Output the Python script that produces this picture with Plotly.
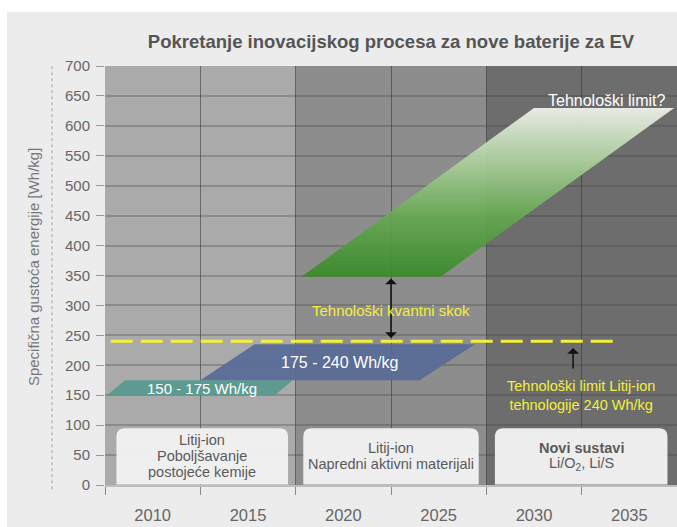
import plotly.graph_objects as go

# ---------------- data ----------------
year_labels = [2010, 2015, 2020, 2025, 2030, 2035]
year_bounds = [2007.5, 2012.5, 2017.5, 2022.5, 2027.5, 2032.5, 2037.5]
y_ticks = list(range(0, 701, 50))

era_start = [2007.5, 2017.5, 2027.5]
era_end = [2017.5, 2027.5, 2037.5]

# technology ranges (parallelograms): density from low to high, rising over time
tech_labels = ["150 - 175 Wh/kg", "175 - 240 Wh/kg", "Tehnološki limit?"]
tech_low = [150, 175, 348]
tech_high = [175, 235, 630]
tech_low_x0 = [2007.6, 2012.5, 2017.8]
tech_low_x1 = [2016.4, 2024.0, 2025.1]
tech_high_x0 = [2008.55, 2015.35, 2030.0]
tech_high_x1 = [2017.35, 2026.9, 2037.35]

limit_value = 240
limit_x = [2007.8, 2034.2]

jump_x = 2022.5
jump_from = 243
jump_to = 345

limit_arrow_x = 2032.05
limit_arrow_from = 192
limit_arrow_to = 229

box_x0 = [2008.1, 2017.9, 2027.95]
box_x1 = [2017.1, 2027.1, 2037.0]
box_bottom = 1
box_top = 95
box_lines = [
    ["Litij-ion", "Poboljšavanje", "postojeće kemije"],
    ["Litij-ion", "Napredni aktivni materijali"],
    ["<b>Novi sustavi</b>", "Li/O<sub>2</sub>, Li/S"],
]

title_text = "Pokretanje inovacijskog procesa za nove baterije za EV"
y_title = "Specifična gustoća energije [Wh/kg]"

# ---------------- styles ----------------
FONT = "Arial, 'Liberation Sans', sans-serif"
era_colors = ["#aaaaaa", "#8d8d8d", "#6d6d6d"]
TXT = "#5a5a5a"
YEL = "#f3ef3c"
W, H = 677, 527
ML, MT, MB = 105, 66, 42
PW = W - ML
PH = H - MT - MB

fig = go.Figure()

# technology parallelograms
fills = ["rgba(88,154,142,0.95)", "rgba(88,108,150,0.93)", None]
for i in range(3):
    xs = [tech_low_x0[i], tech_low_x1[i], tech_high_x1[i], tech_high_x0[i], tech_low_x0[i]]
    ys = [tech_low[i], tech_low[i], tech_high[i], tech_high[i], tech_low[i]]
    if fills[i]:
        fig.add_trace(go.Scatter(x=xs, y=ys, mode="lines", fill="toself",
                                 fillcolor=fills[i], line=dict(width=0),
                                 hoverinfo="skip", showlegend=False))
    else:
        fig.add_trace(go.Scatter(
            x=xs, y=ys, mode="lines", fill="toself", line=dict(width=0),
            fillgradient=dict(type="vertical", colorscale=[
                [0, "rgba(56,138,40,0.93)"], [0.35, "rgba(100,168,80,0.92)"],
                [0.7, "rgba(176,210,160,0.93)"], [1, "rgba(236,238,233,0.97)"]]),
            hoverinfo="skip", showlegend=False))

# Li-ion limit dashed line
fig.add_trace(go.Scatter(x=limit_x, y=[limit_value, limit_value], mode="lines",
                         line=dict(color=YEL, width=3, dash="22px,8px"),
                         hoverinfo="skip", showlegend=False))

shapes = []
# white strips at the top and left edge of the picture
shapes.append(dict(type="rect", xref="paper", yref="paper", x0=-0.3, x1=1.1,
                   y0=1 + (MT - 12) / PH, y1=1.4, fillcolor="white", line_width=0,
                   layer="below"))
shapes.append(dict(type="rect", xref="paper", yref="paper", x0=-0.3, x1=(7 - ML) / PW,
                   y0=-0.3, y1=1.4, fillcolor="white", line_width=0, layer="below"))
# dotted line left
shapes.append(dict(type="line", xref="paper", yref="paper", x0=-53 / PW, x1=-53 / PW,
                   y0=-0.01, y1=1.0, line=dict(color="#c8c8c8", width=2, dash="dot"),
                   layer="below"))
# era bands
for s, e, c in zip(era_start, era_end, era_colors):
    shapes.append(dict(type="rect", xref="x", yref="y", x0=s, x1=e, y0=0, y1=700,
                       fillcolor=c, line_width=0, layer="below"))
# boxes with rounded top corners
rx, ry = 0.45, 14
for x0, x1 in zip(box_x0, box_x1):
    path = (f"M {x0},{box_bottom} L {x0},{box_top - ry} Q {x0},{box_top} {x0 + rx},{box_top} "
            f"L {x1 - rx},{box_top} Q {x1},{box_top} {x1},{box_top - ry} L {x1},{box_bottom} Z")
    shapes.append(dict(type="path", xref="x", yref="y", path=path,
                       fillcolor="rgba(242,242,242,0.97)", line_width=0, layer="above"))

annotations = []
line_step = 27
for x0, x1, lines in zip(box_x0, box_x1, box_lines):
    mid = (box_bottom + box_top) / 2 + 1
    n = len(lines)
    for k, t in enumerate(lines):
        yk = mid + ((n - 1) / 2 - k) * line_step
        annotations.append(dict(x=(x0 + x1) / 2, y=yk, xref="x", yref="y", text=t,
                                showarrow=False, align="center",
                                font=dict(family=FONT, size=14.5, color=TXT)))

# parallelogram labels
annotations.append(dict(x=2012.6, y=161, text=tech_labels[0], showarrow=False,
                        font=dict(family=FONT, size=15, color="white")))
annotations.append(dict(x=2019.8, y=204, text=tech_labels[1], showarrow=False,
                        font=dict(family=FONT, size=16, color="white")))
annotations.append(dict(x=2037.0, y=642, text=tech_labels[2], showarrow=False, xanchor="right",
                        font=dict(family=FONT, size=16, color="white")))
# arrows
annotations.append(dict(x=jump_x, y=jump_to, ax=jump_x, ay=jump_from, xref="x", yref="y",
                        axref="x", ayref="y", showarrow=True, arrowhead=1, startarrowhead=1,
                        arrowside="end+start", arrowsize=1.3, arrowwidth=1.5,
                        arrowcolor="#111", text=""))
annotations.append(dict(x=limit_arrow_x, y=limit_arrow_to, ax=limit_arrow_x, ay=limit_arrow_from,
                        xref="x", yref="y", axref="x", ayref="y", showarrow=True, arrowhead=1,
                        arrowsize=1.3, arrowwidth=1.5, arrowcolor="#111", text=""))
annotations.append(dict(x=jump_x, y=292, text="Tehnološki kvantni skok", showarrow=False,
                        font=dict(family=FONT, size=15, color=YEL)))
annotations.append(dict(x=2032.45, y=149,
                        text="Tehnološki limit Litij-ion<br>tehnologije 240 Wh/kg",
                        showarrow=False, align="center",
                        font=dict(family=FONT, size=14.5, color=YEL)))
# y-axis title
annotations.append(dict(x=-72 / PW, y=0.52, xref="paper", yref="paper", text=y_title,
                        textangle=-90, showarrow=False, xanchor="center", yanchor="middle",
                        font=dict(family=FONT, size=15, color="#777")))

fig.update_layout(
    width=W, height=H,
    margin=dict(l=ML, r=0, t=MT, b=MB, pad=0),
    paper_bgcolor="#ececec", plot_bgcolor="#a9a9a9",
    title=dict(text=f"<b>{title_text}</b>", x=0.5, xref="paper", y=1 - 42 / H,
               yref="container", yanchor="middle", xanchor="center",
               font=dict(family=FONT, size=18.5, color="#555")),
    shapes=shapes, annotations=annotations, showlegend=False,
    xaxis=dict(range=[year_bounds[0], year_bounds[-1]], tickvals=year_labels,
               ticktext=[str(y) for y in year_labels], ticks="outside", ticklen=0,
               ticklabelstandoff=14, showgrid=False, zeroline=False,
               showline=True, linecolor="#bdbdbd", linewidth=2,
               tickfont=dict(family=FONT, size=16.5, color="#666"),
               minor=dict(tickvals=year_bounds, ticks="outside", ticklen=8, tickcolor="#888",
                          tickwidth=1, showgrid=True, gridcolor="rgba(50,50,50,0.55)",
                          gridwidth=1)),
    yaxis=dict(range=[0, 700], tickvals=y_ticks, ticks="outside", ticklen=8,
               tickcolor="#999", showgrid=True, gridcolor="rgba(60,60,60,0.28)",
               gridwidth=2, zeroline=False, showline=False, ticklabelstandoff=3,
               tickfont=dict(family=FONT, size=15, color="#666")),
)

fig.write_html("out.html",
               config={"displayModeBar": False},
               post_script="document.body.style.margin='0';"
                           "document.documentElement.style.overflow='hidden';"
                           "document.body.style.overflow='hidden';")
